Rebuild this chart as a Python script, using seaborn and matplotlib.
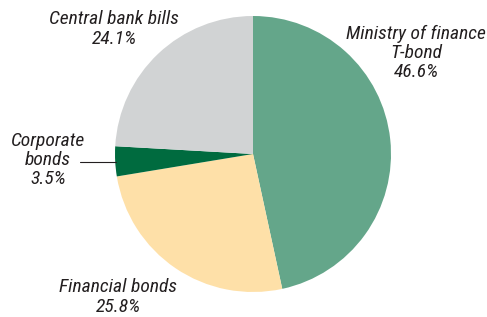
import matplotlib
matplotlib.use('Agg')
import matplotlib.pyplot as plt
import seaborn as sns

categories = ['Ministry of finance\nT-bond', 'Financial bonds', 'Corporate\nbonds', 'Central bank bills']
shares = [46.6, 25.8, 3.5, 24.1]
colors = ['#64a68a', '#fee0a8', '#006b3f', '#d1d3d4']

sns.set_theme(style='white')
plt.rcParams['font.family'] = ['Liberation Sans Narrow', 'Roboto Condensed', 'Archivo Narrow', 'DejaVu Sans']
plt.rcParams['font.style'] = 'italic'

fig = plt.figure(figsize=(4.87, 3.17), dpi=100)
ax = fig.add_axes([0, 0, 1, 1])

ax.pie(shares, colors=colors, startangle=90, counterclock=False,
       center=(253, 163), radius=138, frame=True,
       wedgeprops=dict(linewidth=0))
ax.set_xlim(0, 487)
ax.set_ylim(0, 317)
ax.set_aspect('equal')
ax.axis('off')

# label placement (pixel coords, y up)
label_pos = [(416, 264), (118, 20), (48, 157), (114, 288)]
txt_color = '#231f20'
for cat, val, (x, y) in zip(categories, shares, label_pos):
    ax.text(x, y, f'{cat}\n{val:.1f}%', ha='center', va='center',
            fontsize=14, color=txt_color, linespacing=1.08)

# leader line for the small slice
ax.plot([80, 116], [155, 155], color='#231f20', lw=0.8)

fig.savefig('out.png', dpi=100)
